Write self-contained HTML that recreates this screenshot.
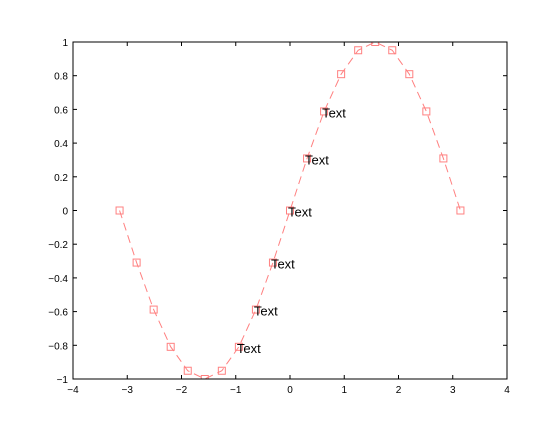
<!DOCTYPE html>
<html><head><meta charset="utf-8"><style>
body{margin:0;background:#fff;}
svg{display:block;font-family:"Liberation Sans",sans-serif;}
</style></head><body>
<svg id="chart" width="560" height="425" viewBox="0 0 560 425"><defs><clipPath id="clip"><rect x="73" y="42" width="434" height="337"/></clipPath></defs></svg>
<script>
const xTicks=[-4,-3,-2,-1,0,1,2,3,4];
const yTicks=[-1,-0.8,-0.6,-0.4,-0.2,0,0.2,0.4,0.6,0.8,1];
const xVals=[-3.1416,-2.8274,-2.5133,-2.1991,-1.8850,-1.5708,-1.2566,-0.9425,-0.6283,-0.3142,0,0.3142,0.6283,0.9425,1.2566,1.5708,1.8850,2.1991,2.5133,2.8274,3.1416];
const yVals=[0,-0.309,-0.588,-0.809,-0.951,-1,-0.951,-0.809,-0.588,-0.309,0,0.309,0.588,0.809,0.951,1,0.951,0.809,0.588,0.309,0];
const labelIdx=[7,8,9,10,11,12];
const labelText=["Text","Text","Text","Text","Text","Text"];
const L=73,R=507,T=42,B=379;
const sx=v=>L+(v+4)/8*(R-L);
const sy=v=>B-(v+1)/2*(B-T);
const svg=document.getElementById('chart');
const NS='http://www.w3.org/2000/svg';
function mk(tag,attrs,parent){const e=document.createElementNS(NS,tag);for(const k in attrs)e.setAttribute(k,attrs[k]);(parent||svg).appendChild(e);return e;}
const box=mk('rect',{x:L,y:T,width:R-L,height:B-T,fill:'#fff',stroke:'none'});


const g=mk('g',{'clip-path':'url(#clip)'});


const pts=xVals.map((x,i)=>sx(x)+','+sy(yVals[i])).join(' ');
const line=mk('polyline',{points:pts,fill:'none',stroke:'#ff8080','stroke-width':1,'stroke-dasharray':'8,5'},g);


xVals.forEach((x,i)=>{
 const m=mk('rect',{x:sx(x)-3.5,y:sy(yVals[i])-3.5,width:7,height:7,fill:'none',stroke:'#ff8080'},g);
 
 
});
const frame=mk('rect',{x:L,y:T,width:R-L,height:B-T,fill:'none',stroke:'#000','stroke-width':1});


xTicks.forEach(t=>{const x=sx(t);
 mk('line',{x1:x,x2:x,y1:B,y2:B-4,stroke:'#000'});
 mk('line',{x1:x,x2:x,y1:T,y2:T+4,stroke:'#000'});
 const tx=mk('text',{x:x,y:B+14,'font-size':10,'text-anchor':'middle'});tx.textContent=String(t).replace('-','\u2212');
 
 
});
yTicks.forEach(t=>{const y=sy(t);
 mk('line',{x1:L,x2:L+4,y1:y,y2:y,stroke:'#000'});
 mk('line',{x1:R,x2:R-4,y1:y,y2:y,stroke:'#000'});
 const tx=mk('text',{x:L-5,y:y+4,'font-size':10,'text-anchor':'end'});tx.textContent=String(t).replace('-','\u2212');
 
 
});
labelIdx.forEach((k,j)=>{
 const t=mk('text',{x:sx(xVals[k])-2,y:sy(yVals[k])+6,'font-size':13});t.textContent=labelText[j];
 
 
});
</script>
</body></html>
